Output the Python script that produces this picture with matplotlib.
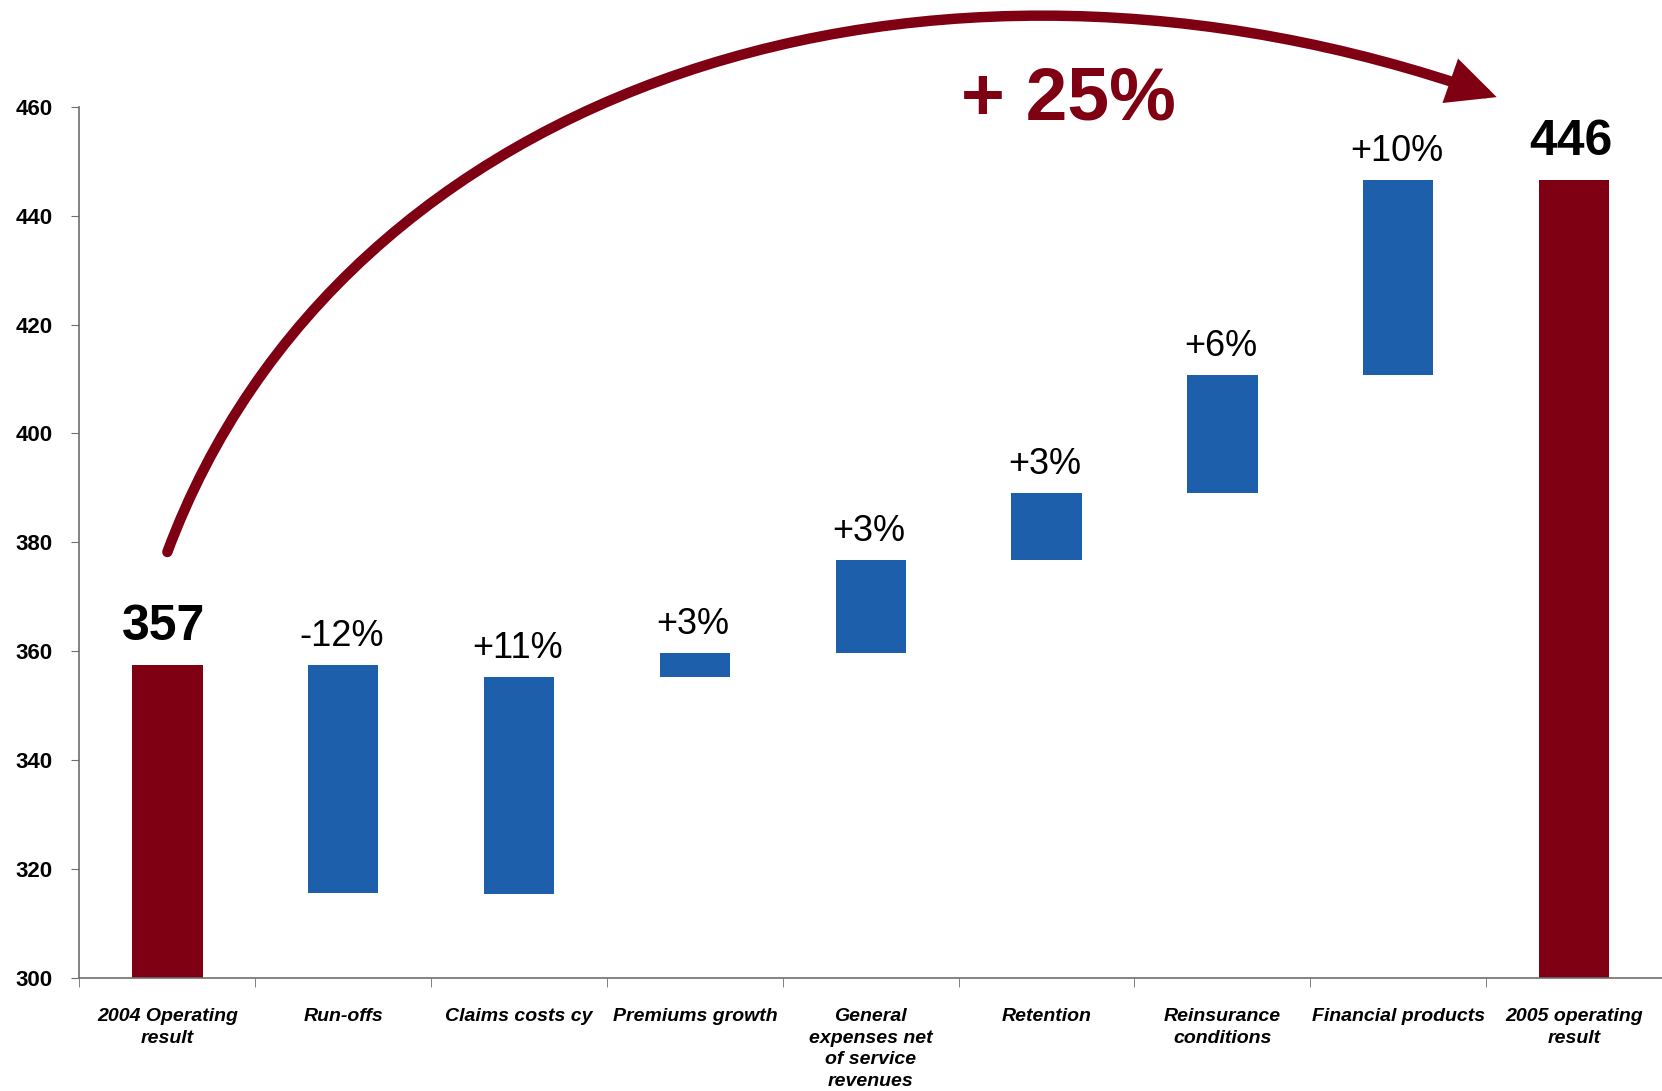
import numpy as np
import matplotlib.pyplot as plt
from matplotlib.patches import FancyArrowPatch
from matplotlib.path import Path

# waterfall: operating result 2004 -> 2005
categories = ['2004 Operating\nresult', 'Run-offs', 'Claims costs cy', 'Premiums growth',
              'General\nexpenses net\nof service\nrevenues', 'Retention',
              'Reinsurance\nconditions', 'Financial products', '2005 operating\nresult']
bar_low = [300, 315.6, 315.4, 355.3, 359.6, 376.8, 389.1, 410.7, 300]
bar_high = [357.5, 357.5, 355.3, 359.6, 376.8, 389.1, 410.7, 446.6, 446.6]
bar_labels = ['357', '-12%', '+11%', '+3%', '+3%', '+3%', '+6%', '+10%', '446']
is_total = [True, False, False, False, False, False, False, False, True]
growth_label = '+ 25%'

# curved arrow (data coords, cubic bezier)
arrow_x = [0, 0.995, 4.323, 7.56]
arrow_y = [378.2, 464.6, 498.6, 461.8]

RED = '#7F0012'
BLUE = '#1E5FAB'
AXIS = '#6E6E6E'

plt.rcParams['font.family'] = ['Liberation Sans', 'DejaVu Sans']

fig = plt.figure(figsize=(16.62, 10.91), dpi=100)
ax = fig.add_axes([0.0478, 0.104, 0.9522, 0.798])

x = np.arange(len(categories))
heights = np.array(bar_high) - np.array(bar_low)
colors = [RED if t else BLUE for t in is_total]
ax.bar(x, heights, bottom=bar_low, width=0.4, color=colors, zorder=2)

for xi, top, lab, tot in zip(x, bar_high, bar_labels, is_total):
    if tot:
        ax.annotate(lab, (xi - 0.02, top), xytext=(0, 18), textcoords='offset points',
                    ha='center', va='baseline', fontsize=36, fontweight='bold')
    else:
        ax.annotate(lab, (xi - 0.01, top), xytext=(0, 13.5), textcoords='offset points',
                    ha='center', va='baseline', fontsize=26)

ax.set_xlim(-0.5, len(categories) - 0.5)
ax.set_ylim(300, 460)
ax.set_yticks(np.arange(300, 461, 20))
ax.tick_params(axis='y', direction='out', length=6, color=AXIS, pad=13,
               labelsize=16)
for t in ax.get_yticklabels():
    t.set_fontweight('bold')

ax.set_xticks(x)
ax.set_xticklabels(categories, fontsize=14, fontweight='bold', style='italic',
                   linespacing=1.35)
ax.set_xticks(np.arange(-0.5, len(categories), 1), minor=True)
ax.tick_params(axis='x', which='major', length=0, pad=22)
ax.tick_params(axis='x', which='minor', direction='out', length=6.5, color=AXIS)

for s in ['top', 'right']:
    ax.spines[s].set_visible(False)
ax.spines['left'].set_color(AXIS)
ax.spines['bottom'].set_color(AXIS)
ax.spines['left'].set_linewidth(1.2)
ax.spines['bottom'].set_linewidth(1.2)

path = Path(list(zip(arrow_x, arrow_y)),
            [Path.MOVETO, Path.CURVE4, Path.CURVE4, Path.CURVE4])
arrow = FancyArrowPatch(path=path, arrowstyle='-|>,head_length=23,head_width=11',
                        mutation_scale=1, lw=7.5, color=RED, joinstyle='miter',
                        transform=ax.transData, clip_on=False, zorder=3)
ax.add_patch(arrow)

ax.text(5.125, 457.6, growth_label, ha='center', va='baseline', fontsize=54,
        fontweight='bold', color=RED, clip_on=False)

fig.savefig('out.png', dpi=100)
